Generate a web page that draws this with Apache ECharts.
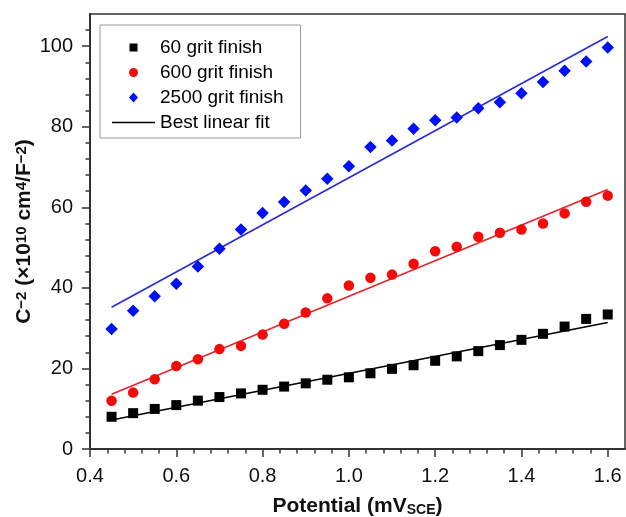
<!DOCTYPE html>
<html><head><meta charset="utf-8">
<script src="https://cdn.jsdelivr.net/npm/echarts@6/dist/echarts.min.js"></script>
<style>html,body{margin:0;padding:0;background:#fff}#c{width:626px;height:517px}</style>
</head><body><div id="c"></div>
<script>
const potentials = [0.45,0.50,0.55,0.60,0.65,0.70,0.75,0.80,0.85,0.90,0.95,1.00,1.05,1.10,1.15,1.20,1.25,1.30,1.35,1.40,1.45,1.50,1.55,1.60];
const grit60   = [8.0,8.9,9.95,10.9,12.0,12.9,13.8,14.7,15.5,16.3,17.2,17.8,18.8,19.9,20.8,21.9,23.0,24.3,25.8,27.1,28.6,30.4,32.3,33.4];
const grit600  = [12.0,14.0,17.3,20.6,22.3,24.8,25.6,28.4,31.1,33.9,37.4,40.6,42.5,43.3,46.0,49.1,50.2,52.7,53.7,54.5,56.0,58.5,61.4,62.9];
const grit2500 = [29.8,34.3,37.9,41.0,45.3,49.7,54.5,58.6,61.3,64.2,67.1,70.2,75.0,76.6,79.5,81.6,82.3,84.6,86.1,88.3,91.1,93.9,96.2,99.7];
const fitX = [0.45, 1.60];
const fit60 = [7.2, 31.4];
const fit600 = [13.6, 64.4];
const fit2500 = [35.2, 102.4];
const xMajorTicks = [0.4,0.6,0.8,1.0,1.2,1.4,1.6];
const xMinorTicks = [0.44,0.48,0.52,0.56,0.64,0.68,0.72,0.76,0.84,0.88,0.92,0.96,1.04,1.08,1.12,1.16,1.24,1.28,1.32,1.36,1.44,1.48,1.52,1.56];
const yMajorTicks = [0,20,40,60,80,100];
const yMinorTicks = [4,8,12,16,24,28,32,36,44,48,52,56,64,68,72,76,84,88,92,96,104];

const pairs = (xs, ys) => xs.map((x, i) => [x, ys[i]]);
const FONT = '"Liberation Sans", Arial, Helvetica, sans-serif';
const AX = '#333';

const chart = echarts.init(document.getElementById('c'), null, {renderer: 'canvas'});
const xBase = {min: 0.4, max: 1.64, gridIndex: 0, position: 'bottom', splitLine: {show: false}};
const yBase = {min: 0, max: 108, gridIndex: 0, position: 'left', splitLine: {show: false}};
chart.setOption({
  animation: false,
  backgroundColor: '#fff',
  textStyle: {fontFamily: FONT},
  grid: {left: 90, top: 14, right: 1, bottom: 68, show: true, borderColor: AX, borderWidth: 1.5, containLabel: false, outerBoundsMode: 'none'},
  legend: {
    orient: 'vertical', left: 100, top: 25,
    padding: [13, 17, 6, 12], itemGap: 6,
    itemWidth: 43, itemHeight: 10,
    symbolKeepAspect: true,
    borderColor: '#999', borderWidth: 1, backgroundColor: '#fff',
    selectedMode: false,
    textStyle: {fontSize: 19, color: '#000', fontFamily: FONT},
    data: [
      {name: '60 grit finish', icon: 'path://M0,0L0,0M1,1H9V9H1ZM10,10L10,10', itemStyle: {color: '#000'}},
      {name: '600 grit finish', icon: 'path://M0,0L0,0M5,0.5A4.5,4.5,0,1,1,4.99,0.5ZM10,10L10,10', itemStyle: {color: '#f50a0a'}},
      {name: '2500 grit finish', icon: 'path://M5,0L10,5.5L5,11L0,5.5Z', itemStyle: {color: '#0010f5'}},
      {name: 'Best linear fit', icon: 'path://M0,0H90V3H0Z', itemStyle: {color: '#000'}}
    ]
  },
  xAxis: [
    Object.assign({}, xBase, {
      type: 'value',
      axisLine: {show: true, onZero: false, lineStyle: {color: AX, width: 2}},
      axisTick: {show: true, length: 8, customValues: xMajorTicks, lineStyle: {color: AX, width: 1.5}},
      axisLabel: {customValues: xMajorTicks, margin: 17, fontSize: 20, color: '#111', fontFamily: FONT, formatter: v => v.toFixed(1)},
      name: '{t|Potential (mV}{s|SCE}{t|)}', nameLocation: 'middle', nameGap: 42,
      nameTextStyle: {rich: {
        t: {fontSize: 21, fontWeight: 'bold', color: '#111', fontFamily: FONT, lineHeight: 26, verticalAlign: 'bottom'},
        s: {fontSize: 14, fontWeight: 'bold', color: '#111', fontFamily: FONT, lineHeight: 14, verticalAlign: 'bottom'}
      }}
    }),
    Object.assign({}, xBase, {
      type: 'value',
      axisLine: {show: false, onZero: false},
      axisTick: {show: true, length: 4.5, customValues: xMinorTicks, lineStyle: {color: AX, width: 1.5}},
      axisLabel: {show: false}
    })
  ],
  yAxis: [
    Object.assign({}, yBase, {
      type: 'value',
      axisLine: {show: true, onZero: false, lineStyle: {color: AX, width: 2}},
      axisTick: {show: true, length: 8, customValues: yMajorTicks, lineStyle: {color: AX, width: 1.5}},
      axisLabel: {customValues: yMajorTicks, margin: 17, fontSize: 20, color: '#111', fontFamily: FONT},
      name: '{t|C}{p|\u22122}{t| (\u00d710}{p|10}{t| cm}{p|4}{t|/F}{p|\u22122}{t|)}',
      nameLocation: 'middle', nameGap: 50, nameRotate: 90, nameMoveOverlap: false,
      nameTextStyle: {rich: {
        t: {fontSize: 21, fontWeight: 'bold', color: '#111', fontFamily: FONT, lineHeight: 26, verticalAlign: 'top'},
        p: {fontSize: 15, fontWeight: 'bold', color: '#111', fontFamily: FONT, lineHeight: 15, verticalAlign: 'top'}
      }}
    }),
    Object.assign({}, yBase, {
      type: 'value',
      axisLine: {show: false, onZero: false},
      axisTick: {show: true, length: 4.5, customValues: yMinorTicks, lineStyle: {color: AX, width: 1.5}},
      axisLabel: {show: false}
    })
  ],
  series: [
    {name: 'Best linear fit', type: 'line', xAxisIndex: 0, yAxisIndex: 0, data: pairs(fitX, fit60), symbol: 'none', lineStyle: {color: '#000', width: 1.6}, itemStyle: {color: '#000'}, z: 2},
    {name: 'fit600', type: 'line', xAxisIndex: 0, yAxisIndex: 0, data: pairs(fitX, fit600), symbol: 'none', lineStyle: {color: '#e3262b', width: 1.6}, z: 2},
    {name: 'fit2500', type: 'line', xAxisIndex: 0, yAxisIndex: 0, data: pairs(fitX, fit2500), symbol: 'none', lineStyle: {color: '#2a2ad6', width: 1.6}, z: 2},
    {name: '60 grit finish', type: 'scatter', xAxisIndex: 0, yAxisIndex: 0, data: pairs(potentials, grit60), symbol: 'rect', symbolSize: 10, itemStyle: {color: '#000', opacity: 1}, z: 3},
    {name: '600 grit finish', type: 'scatter', xAxisIndex: 0, yAxisIndex: 0, data: pairs(potentials, grit600), symbol: 'circle', symbolSize: 10.5, itemStyle: {color: '#f50a0a', opacity: 1}, z: 3},
    {name: '2500 grit finish', type: 'scatter', xAxisIndex: 0, yAxisIndex: 0, data: pairs(potentials, grit2500), symbol: 'diamond', symbolSize: 12.5, itemStyle: {color: '#0010f5', opacity: 1}, z: 3}
  ]
});
</script></body></html>
